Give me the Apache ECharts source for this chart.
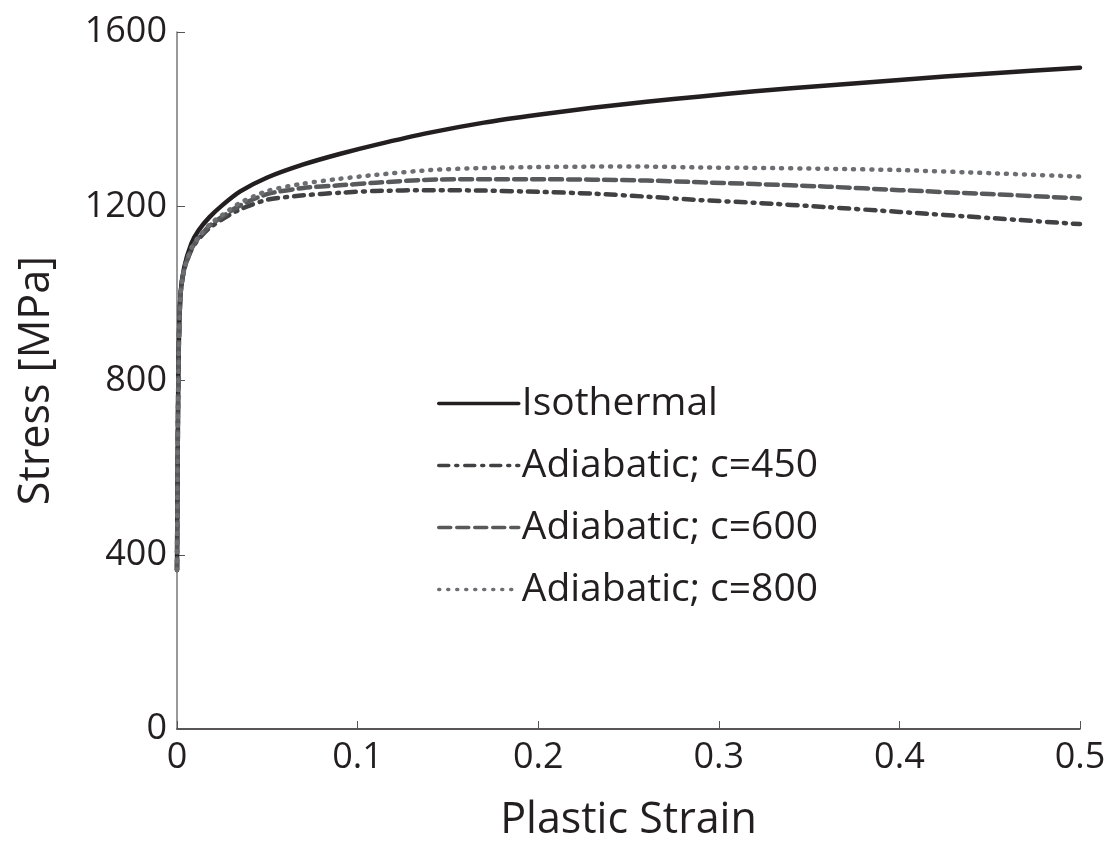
<!DOCTYPE html>
<html>
<head>
  <meta charset="UTF-8">
  <title>stress-strain</title>
  <style>
    body { margin: 0; background: #fff; }
    #chart { width: 1120px; height: 845px; }
  </style>
  <script src="https://cdn.jsdelivr.net/npm/echarts@6/dist/echarts.min.js"></script>
</head>
<body>
<div id="chart"></div>
<script type="text/javascript">
  // strain points shared by all curves
  const strain = [0, 0.0005, 0.001, 0.002, 0.004, 0.008, 0.012, 0.018, 0.025, 0.035, 0.05, 0.07, 0.09, 0.11, 0.14, 0.17, 0.2, 0.23, 0.26, 0.29, 0.32, 0.36, 0.4, 0.45, 0.5];
  const isothermal = [365, 700, 880, 1000, 1060, 1115, 1145, 1175, 1202, 1234, 1266, 1296, 1320, 1341, 1369, 1392, 1410, 1426, 1440, 1452, 1464, 1477, 1490, 1505, 1518];
  const adia450 = [365, 700, 880, 1000, 1055, 1100, 1125, 1150, 1170, 1193, 1215, 1225, 1231, 1235, 1237, 1236, 1233, 1229, 1222, 1214, 1208, 1198, 1187, 1173, 1159];
  const adia600 = [365, 700, 880, 1000, 1055, 1102, 1128, 1155, 1176, 1202, 1228, 1242, 1248, 1254, 1261, 1262, 1262, 1261, 1259, 1255, 1251, 1245, 1237, 1228, 1218];
  const adia800 = [365, 700, 880, 1000, 1055, 1105, 1130, 1158, 1180, 1208, 1235, 1252, 1263, 1272, 1283, 1288, 1290, 1291, 1291, 1289, 1288, 1286, 1283, 1276, 1268];
  const names = ['Isothermal', 'Adiabatic; c=450', 'Adiabatic; c=600', 'Adiabatic; c=800'];

  const font = '"Open Sans", sans-serif';

  function pairs(vals) {
    return strain.map(function (s, i) { return [s, vals[i]]; });
  }

  function curve(name, vals, color, width, dash) {
    return {
      name: name,
      type: 'line',
      data: pairs(vals),
      showSymbol: false,
      symbol: 'none',
      smooth: 0.25,
      lineStyle: { color: color, width: width, type: dash, cap: 'round', join: 'round' },
      itemStyle: { color: color }
    };
  }

  const chart = echarts.init(document.getElementById('chart'));
  chart.setOption({
    animation: false,
    grid: { left: 177, right: 40, top: 32, bottom: 116, outerBoundsMode: 'none', containLabel: false },
    legend: {
      orient: 'vertical',
      left: 432,
      top: 379,
      itemWidth: 80,
      itemHeight: 14,
      itemGap: 23,
      itemStyle: { opacity: 0 },
      lineStyle: { width: 3.5 },
      textStyle: { fontFamily: font, fontSize: 39, color: '#231f20', padding: [0, 0, 0, -2] },
      data: names
    },
    xAxis: {
      type: 'value',
      min: 0,
      max: 0.5,
      interval: 0.1,
      name: 'Plastic Strain',
      nameLocation: 'middle',
      nameGap: 70,
      nameTextStyle: { fontFamily: font, fontSize: 43, color: '#231f20' },
      axisLine: { lineStyle: { color: '#231f20', width: 1.5 } },
      axisTick: { inside: true, length: 8, lineStyle: { color: '#555' } },
      axisLabel: { fontFamily: font, fontSize: 36, color: '#231f20', margin: 11 },
      splitLine: { show: false }
    },
    yAxis: {
      type: 'value',
      min: 0,
      max: 1600,
      interval: 400,
      name: 'Stress [MPa]',
      nameLocation: 'middle',
      nameGap: 119,
      nameTextStyle: { fontFamily: font, fontSize: 43, color: '#231f20' },
      axisLine: { show: true, lineStyle: { color: '#777', width: 1.5 } },
      axisTick: { show: true, inside: true, length: 8, lineStyle: { color: '#555' } },
      axisLabel: { fontFamily: font, fontSize: 36, color: '#231f20', margin: 10, formatter: function (v) { return String(v); } },
      splitLine: { show: false }
    },
    series: [
      curve(names[0], isothermal, '#231f20', 4.5, 'solid'),
      curve(names[1], adia450, '#414042', 4.5, [10, 7, 2, 7]),
      curve(names[2], adia600, '#58595b', 4.5, [12, 6]),
      curve(names[3], adia800, '#6d6e71', 4.5, [1, 8])
    ]
  });
</script>
</body>
</html>
